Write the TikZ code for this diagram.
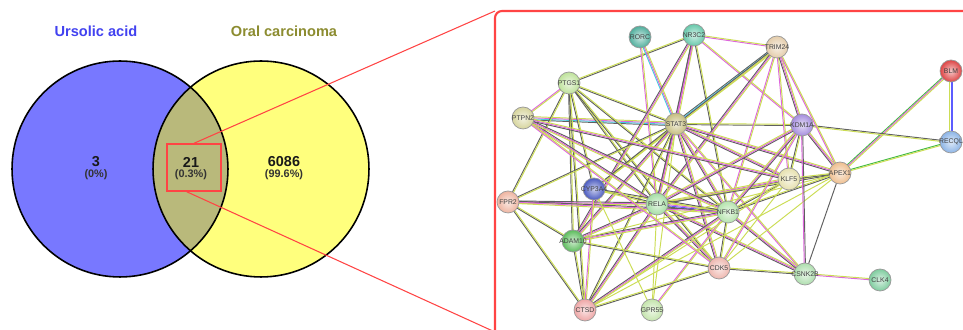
\documentclass[tikz,border=0pt]{standalone}
\usepackage{fontspec}
\setmainfont{Liberation Sans}
\usetikzlibrary{calc}
\pgfdeclarelayer{bg}
\pgfsetlayers{bg,main}

% Venn colours
\definecolor{vblue}{HTML}{7878FF}
\definecolor{vyellow}{HTML}{FFFF7D}
\definecolor{vboth}{HTML}{B9B97B}
\definecolor{tblue}{HTML}{4242F0}
\definecolor{tolive}{HTML}{8C8C30}
\definecolor{zoomred}{HTML}{FF4444}
% evidence strand colours
\definecolor{lk}{HTML}{606060}
\definecolor{ly}{HTML}{CCDD55}
\definecolor{lm}{HTML}{DD66DD}
\definecolor{lc}{HTML}{44CCE0}
\definecolor{lg}{HTML}{44BB44}
\definecolor{lb}{HTML}{5C5CFF}
% protein colours
\definecolor{cRORC}{HTML}{4FAE9C}
\definecolor{cNRthree}{HTML}{66C8AA}
\definecolor{cTRIM}{HTML}{E4CCAA}
\definecolor{cBLM}{HTML}{DD4444}
\definecolor{cPTGS}{HTML}{BEE29A}
\definecolor{cPTPN}{HTML}{D6D49C}
\definecolor{cSTAT}{HTML}{C6BE7E}
\definecolor{cKDM}{HTML}{A48CDE}
\definecolor{cRECQL}{HTML}{8CB4E6}
\definecolor{cKLF}{HTML}{E6E0AE}
\definecolor{cAPEX}{HTML}{EEBE8E}
\definecolor{cCYP}{HTML}{4A5AC0}
\definecolor{cFPR}{HTML}{EEB4A0}
\definecolor{cRELA}{HTML}{A4DEA4}
\definecolor{cNFKB}{HTML}{B4E4AC}
\definecolor{cADAM}{HTML}{5CBC5C}
\definecolor{cCDK}{HTML}{EEB6AE}
\definecolor{cCSNK}{HTML}{AEDEAE}
\definecolor{cCLK}{HTML}{7ECC9E}
\definecolor{cCTSD}{HTML}{EEA6A6}
\definecolor{cGPR}{HTML}{C4E4AC}

\tikzset{
  prot/.style={circle, minimum size=0.44cm, inner sep=0pt, draw=black!40,
    line width=0.4pt, inner color=#1!30!white, outer color=#1},
  protlabel/.style={font=\fontsize{3.9}{4}\selectfont, text=black!75, inner sep=0pt},
  strand/.style={line width=0.55pt},
  venn/.style={draw=black, line width=0.9pt},
  vtitle/.style={font=\fontsize{8.3}{9}\selectfont\bfseries},
  vnum/.style={font=\fontsize{8.2}{9}\selectfont\bfseries, text=black!90},
  vpct/.style={font=\fontsize{6.2}{7}\selectfont\bfseries, text=black!80},
}

% a protein: name, colour, position, printed label
\newcommand\protein[4]{%
  \node[prot=#2, label={[protlabel]center:#4}] (#1) at (#3) {};%
}

% one interaction: parallel strands, one per evidence colour
\newcommand\lnk[3]{%
  \foreach[count=\ni] \lcol in {#3}{\xdef\nstrand{\ni}}%
  \foreach[count=\ni] \lcol in {#3}{%
    \pgfmathsetmacro\soff{(\ni-(\nstrand+1)/2)*0.65}%
    \draw[strand, draw=\lcol] ($(#1)!\soff pt!90:(#2)$) -- ($(#2)!\soff pt!-90:(#1)$);%
  }%
}

\begin{document}
\begin{tikzpicture}[x=0.02cm, y=-0.02cm]
\path[use as bounding box] (0,0) rectangle (963,330);
\clip (0,0) rectangle (963,330);
\begin{pgfonlayer}{bg}
\fill[white] (0,0) rectangle (963,330);
\end{pgfonlayer}

% ---------- Venn diagram ----------
\fill[vblue] (120,169) circle[radius=2.16cm];
\fill[vyellow] (261,169) circle[radius=2.16cm];
\begin{scope}
  \clip (120,169) circle[radius=2.16cm];
  \fill[vboth] (261,169) circle[radius=2.16cm];
\end{scope}
\draw[venn] (120,169) circle[radius=2.16cm];
\draw[venn] (261,169) circle[radius=2.16cm];

\node[vtitle, text=tblue] (tUA) at (96,31) {Ursolic acid};
\node[vtitle, text=tolive] (tOC) at (284,31) {Oral carcinoma};
\node[vnum] (nA) at (96,162) {3};
\node[vpct] (pA) at (96,175) {(0\%)};
\node[vnum] (nAB) at (191,162) {21};
\node[vpct] (pAB) at (191,175) {(0.3\%)};
\node[vnum] (nB) at (284,162) {6086};
\node[vpct] (pB) at (284,175) {(99.6\%)};

% zoom frame
\node[draw=zoomred, line width=0.8pt, minimum width=54*0.02cm, minimum height=47*0.02cm, inner sep=0pt] (zoombox) at (194,167.5) {};
\coordinate (frameTL) at (495,11);
\coordinate (frameBL) at (495,332);
\coordinate (frameTR) at (975,11);
\draw[zoomred, line width=1.2pt, rounded corners=4pt] (frameBL) -- (frameTL) -- (frameTR);
\draw[zoomred, line width=0.6pt] (zoombox.north) -- (frameTL);
\draw[zoomred, line width=0.6pt] (zoombox.-107) -- (frameBL);

% ---------- interaction network ----------
\protein{rorc}{cRORC}{640,37}{RORC}
\protein{nr3c2}{cNRthree}{694,35}{NR3C2}
\protein{trim24}{cTRIM}{777,47}{TRIM24}
\protein{blm}{cBLM}{951,71}{BLM}
\protein{ptgs1}{cPTGS}{569,83}{PTGS1}
\protein{ptpn2}{cPTPN}{523,118}{PTPN2}
\protein{stat3}{cSTAT}{676,124}{STAT3}
\protein{kdm1a}{cKDM}{802,125}{KDM1A}
\protein{recql}{cRECQL}{951,142}{RECQL}
\protein{klf5}{cKLF}{789,179}{KLF5}
\protein{apex1}{cAPEX}{840,173}{APEX1}
\protein{cyp3a4}{cCYP}{594,189}{CYP3A4}
\protein{fpr2}{cFPR}{508,202}{FPR2}
\protein{rela}{cRELA}{657,204}{RELA}
\protein{nfkb1}{cNFKB}{728,212}{NFKB1}
\protein{adam10}{cADAM}{573,241}{ADAM10}
\protein{cdk5}{cCDK}{719,268}{CDK5}
\protein{csnk2b}{cCSNK}{805,274}{CSNK2B}
\protein{clk4}{cCLK}{880,280}{CLK4}
\protein{ctsd}{cCTSD}{585,310}{CTSD}
\protein{gpr55}{cGPR}{652,310}{GPR55}

\begin{pgfonlayer}{bg}
\lnk{blm}{recql}{ly,lb,lb}
\lnk{blm}{apex1}{lg,lm,ly}
\lnk{recql}{apex1}{lg,ly}
\lnk{recql}{kdm1a}{lk,ly}
\lnk{stat3}{kdm1a}{lk,ly}
\lnk{ptpn2}{stat3}{lk,lc,lm,ly}
\lnk{ptgs1}{nr3c2}{lk,ly}
\lnk{ptgs1}{ptpn2}{lm,ly}
\lnk{ptgs1}{stat3}{lk,ly}
\lnk{ptgs1}{fpr2}{lk,ly}
\lnk{ptgs1}{adam10}{lk,ly}
\lnk{ptgs1}{cyp3a4}{lk,ly}
\lnk{ptgs1}{rela}{lk,ly}
\lnk{ptgs1}{nfkb1}{lk,ly}
\lnk{ptgs1}{ctsd}{lk,ly}
\lnk{ptgs1}{cdk5}{lk,ly}
\lnk{rorc}{stat3}{lc,lm,ly}
\lnk{rorc}{rela}{lm,ly}
\lnk{nr3c2}{trim24}{lm,ly}
\lnk{nr3c2}{kdm1a}{lm,ly}
\lnk{nr3c2}{stat3}{lk,lm,ly}
\lnk{nr3c2}{nfkb1}{lk,ly}
\lnk{nr3c2}{rela}{lk,lm}
\lnk{nr3c2}{adam10}{lk,lm,ly}
\lnk{trim24}{stat3}{lk,lc,lm,ly}
\lnk{trim24}{rela}{lk,lm,ly}
\lnk{trim24}{nfkb1}{lm,ly}
\lnk{trim24}{klf5}{lm,ly}
\lnk{trim24}{kdm1a}{lk,lm,ly}
\lnk{trim24}{apex1}{lm,ly}
\lnk{trim24}{cyp3a4}{lk,ly}
\lnk{stat3}{klf5}{lk,lm,ly}
\lnk{stat3}{apex1}{lk,lm,ly}
\lnk{stat3}{rela}{lk,lm,ly}
\lnk{stat3}{nfkb1}{lk,lm,ly}
\lnk{stat3}{cyp3a4}{lk,ly}
\lnk{stat3}{fpr2}{lk,ly}
\lnk{stat3}{adam10}{lk,lm,ly}
\lnk{stat3}{cdk5}{lk,lm,ly}
\lnk{stat3}{csnk2b}{lm,ly}
\lnk{stat3}{ctsd}{lk,ly}
\lnk{stat3}{gpr55}{ly}
\lnk{rela}{fpr2}{lk,lm,ly}
\lnk{rela}{cyp3a4}{lk,ly}
\lnk{rela}{adam10}{lk,lm,ly}
\lnk{rela}{nfkb1}{lk,lb,lm,ly}
\lnk{rela}{cdk5}{lk,lm,ly}
\lnk{rela}{csnk2b}{lk,lm,ly}
\lnk{rela}{ctsd}{lk,lm,ly}
\lnk{rela}{gpr55}{ly}
\lnk{rela}{klf5}{lk,lm,ly}
\lnk{rela}{apex1}{lk,ly}
\lnk{rela}{kdm1a}{lk,lm,ly}
\lnk{rela}{ptpn2}{lk,lm,ly}
\lnk{nfkb1}{fpr2}{lk,lm,ly}
\lnk{nfkb1}{cyp3a4}{lk,ly}
\lnk{nfkb1}{adam10}{lk,lm,ly}
\lnk{nfkb1}{cdk5}{lk,ly}
\lnk{nfkb1}{csnk2b}{lk,lm,ly}
\lnk{nfkb1}{ctsd}{lk,lm,ly}
\lnk{nfkb1}{gpr55}{lm,ly}
\lnk{nfkb1}{klf5}{lk,ly}
\lnk{nfkb1}{apex1}{lk,ly}
\lnk{nfkb1}{kdm1a}{lk,lm,ly}
\lnk{nfkb1}{ptpn2}{lk,lm,ly}
\lnk{fpr2}{adam10}{lk,ly}
\lnk{fpr2}{ctsd}{lk,ly}
\lnk{cyp3a4}{ctsd}{lm,ly}
\lnk{adam10}{ctsd}{lk,ly}
\lnk{adam10}{cdk5}{lk,ly}
\lnk{adam10}{apex1}{ly}
\lnk{ctsd}{cdk5}{lk,ly}
\lnk{ctsd}{klf5}{ly}
\lnk{ctsd}{apex1}{ly}
\lnk{gpr55}{cyp3a4}{ly}
\lnk{cdk5}{csnk2b}{lk,ly}
\lnk{cdk5}{apex1}{ly}
\lnk{cdk5}{klf5}{ly}
\lnk{cdk5}{kdm1a}{lm,ly}
\lnk{csnk2b}{clk4}{lm,ly}
\lnk{csnk2b}{apex1}{lk}
\lnk{csnk2b}{kdm1a}{lk,lm}
\lnk{kdm1a}{apex1}{lk,lm,ly}
\lnk{kdm1a}{klf5}{lk,ly}
\lnk{klf5}{apex1}{lk,ly}
\lnk{ptpn2}{cdk5}{lm,ly}
\lnk{ptpn2}{klf5}{lk,lm,ly}
\end{pgfonlayer}
\end{tikzpicture}
\end{document}
